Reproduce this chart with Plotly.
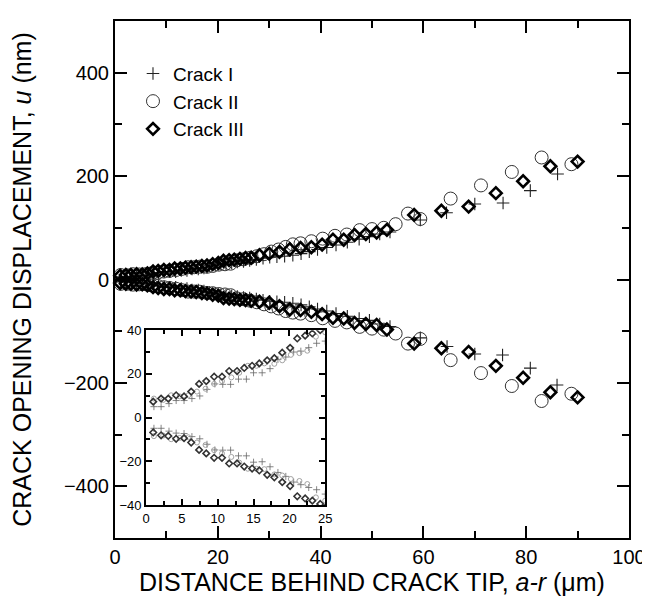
import plotly.graph_objects as go

# ---------------- data ----------------
# Crack I (crosses)
crack1_x_up = [1.1, 2.1, 3.2, 4.2, 5.3, 6.4, 7.5, 8.5, 9.6, 10.7, 11.8, 12.9, 14.0, 15.0, 16.2,
               17.3, 18.4, 19.5, 20.6, 21.6, 22.7, 23.8, 25.0, 26.2, 27.5, 28.8, 30.1, 31.5, 33.0, 34.6,
               36.2, 37.8, 39.4, 41.2, 43.0, 45.2, 47.5, 49.5, 51.5, 53.5, 59.4, 64.5, 70.0, 75.5, 80.8, 86.1]
crack1_u_up = [5.0, 5.0, 6.4, 7.8, 7.8, 8.7, 9.9, 12.9, 15.4, 15.2, 15.2, 17.6, 17.6, 20.5, 20.5,
               22.4, 26.6, 27.7, 30.0, 30.4, 32, 34, 35, 37, 39, 41, 43, 44, 45, 47,
               50, 54, 58, 62, 66.7, 72, 78, 83, 88, 92, 115, 129, 146, 148, 172, 204]
crack1_x_low = [1.1, 2.1, 3.2, 4.2, 5.3, 6.4, 7.5, 8.5, 9.6, 10.7, 11.8, 12.9, 14.0, 15.0, 16.2,
                17.3, 18.4, 19.5, 20.6, 21.6, 22.7, 23.8, 25.0, 26.2, 27.5, 28.8, 30.1, 31.5, 33.0, 34.6,
                36.2, 37.8, 39.4, 41.2, 43.0, 45.2, 47.5, 49.5, 51.5, 53.5, 59.4, 64.6, 70.0, 75.4, 80.8, 86.0]
crack1_u_low = [-4.9, -4.9, -6.2, -7.1, -7.3, -8.7, -9.7, -12.2, -14.8, -14.9, -14.9, -17.5, -17.5, -20.4, -20.2,
                -22.5, -25.1, -26.9, -29.5, -30.7, -32, -33, -35, -36, -38, -40, -42, -43, -44, -46,
                -49, -53, -57, -61, -66, -71, -75.5, -79, -86, -91, -113, -129.5, -144, -146, -171.5, -204]

# Crack II (open circles)
crack2_x_up = [1.1, 2.4, 3.5, 4.7, 5.9, 7.1, 8.3, 9.5, 10.6, 11.9, 13.0, 14.2, 15.4, 16.5,
               17.9, 19.0, 20.2, 21.4, 22.5, 23.7, 25.0, 26.3, 27.6, 29.0, 30.4, 31.8, 33.2, 34.6, 36.1,
               38.2, 40.4, 42.8, 45.1, 47.6, 50.0, 52.3, 54.6, 57.0, 59.4, 65.3, 71.2, 77.2, 83.0, 88.8]
crack2_u_up = [8.7, 8.1, 10.2, 9.7, 10.2, 11.9, 13.2, 15.4, 16.7, 18.4, 20.5, 23.7, 23.7, 24.8,
               24.6, 26.2, 28.7, 29.5, 30.6, 37.0, 39, 42, 45, 49, 54, 58, 63, 68, 70,
               74, 79, 84.5, 87, 95.5, 97.5, 100, 107, 127.5, 117, 156.5, 182, 208, 236, 223]
crack2_x_low = [1.1, 2.4, 3.5, 4.7, 5.9, 7.1, 8.3, 9.5, 10.6, 11.9, 13.0, 14.2, 15.4, 16.5,
                17.9, 19.0, 20.2, 21.4, 22.5, 23.7, 25.0, 26.3, 27.6, 29.0, 30.4, 31.8, 33.2, 34.6, 36.1,
                38.2, 40.4, 42.8, 45.1, 47.6, 50.0, 52.3, 54.6, 57.0, 59.4, 65.3, 71.2, 77.2, 83.0, 88.8]
crack2_u_low = [-8.5, -8.2, -9.9, -9.3, -9.0, -11.4, -12.5, -14.9, -16.4, -18.0, -20.6, -23.4, -23.4, -23.6,
                -26.0, -26.5, -28.1, -29.0, -30.4, -36.5, -38, -41, -44, -48, -52, -56, -61, -64, -66,
                -69, -75, -80, -83, -91.6, -95, -97, -104.5, -124, -115, -156, -181, -206, -235, -221]

# Crack III (open diamonds)
crack3_x_up = [1.0, 2.1, 3.1, 4.2, 5.3, 6.3, 7.4, 8.4, 9.5, 10.6, 11.6, 12.7, 13.7, 14.8, 15.8,
               16.9, 17.9, 19.0, 20.1, 21.1, 22.2, 23.2, 24.3, 25.4, 26.5, 28.1, 30.0, 32.0, 34.0, 36.1,
               38.2, 40.3, 42.4, 44.5, 46.6, 48.8, 50.9, 52.9, 58.2, 63.5, 68.8, 74.1, 79.4, 84.7, 90.0]
crack3_u_up = [7.3, 8.7, 8.7, 10.2, 9.7, 11.9, 15.4, 16.7, 18.7, 18.7, 21.3, 21.3, 22.7, 23.7, 24.8,
               26.2, 27.2, 29.7, 31.9, 36.2, 37.5, 38.5, 40, 41.5, 42, 47, 50, 53.5, 58.5, 61,
               62.5, 67.5, 77, 77, 86, 88, 91, 96, 125, 133, 141, 167, 190, 219, 228]
crack3_x_low = [1.0, 2.1, 3.1, 4.2, 5.3, 6.3, 7.4, 8.4, 9.5, 10.6, 11.6, 12.7, 13.7, 14.8, 15.8,
                16.9, 17.9, 19.0, 20.1, 21.1, 22.2, 23.2, 24.3, 25.4, 26.5, 28.1, 30.0, 32.0, 34.0, 36.1,
                38.2, 40.3, 42.4, 44.5, 46.6, 48.8, 50.9, 52.9, 58.2, 63.5, 68.8, 74.1, 79.4, 84.7, 90.0]
crack3_u_low = [-6.8, -8.1, -8.4, -9.7, -9.4, -11.4, -14.8, -16.4, -18.4, -18.4, -21.0, -21.0, -22.4, -23.3, -24.2,
                -26.2, -27.3, -29.5, -31.3, -36.0, -37, -38, -39.5, -40, -41, -43, -45, -51.6, -58, -59,
                -62.6, -67, -74, -75.5, -84, -86, -88, -96.8, -124, -133, -140, -167, -190, -218, -228]

series_names = ["Crack I", "Crack II", "Crack III"]
main_x_ticks = [0, 20, 40, 60, 80, 100]
main_y_ticks = [-400, -200, 0, 200, 400]
inset_x_ticks = [0, 5, 10, 15, 20, 25]
inset_y_ticks = [-40, -20, 0, 20, 40]

# ---------------- figure ----------------
FONT = "Liberation Sans, Arial, sans-serif"
fig = go.Figure()

series = [
    (crack1_x_up + crack1_x_low, crack1_u_up + crack1_u_low),
    (crack2_x_up + crack2_x_low, crack2_u_up + crack2_u_low),
    (crack3_x_up + crack3_x_low, crack3_u_up + crack3_u_low),
]
main_styles = [
    dict(symbol="cross-thin-open", size=9, color="#222", line=dict(color="#222", width=1.1)),
    dict(symbol="circle-open", size=13, color="#333", line=dict(color="#333", width=1)),
    dict(symbol="diamond-open", size=9, color="#000", line=dict(color="#000", width=2.6)),
]
inset_styles = [
    dict(symbol="cross-thin-open", size=5, color="#666", line=dict(color="#666", width=0.8)),
    dict(symbol="circle-open", size=5, color="#999", line=dict(color="#999", width=0.9)),
    dict(symbol="diamond-open", size=5, color="#333", line=dict(color="#333", width=1.6)),
]

for (xs, us), name, st in zip(series, series_names, main_styles):
    fig.add_trace(go.Scatter(x=xs, y=us, mode="markers", name=name, marker=st,
                             cliponaxis=False, xaxis="x", yaxis="y"))

for (xs, us), name, st in zip(series, series_names, inset_styles):
    fig.add_trace(go.Scatter(x=xs, y=us, mode="markers", name=name, marker=st,
                             showlegend=False, xaxis="x2", yaxis="y2"))

axis_common = dict(showline=True, linecolor="black", linewidth=2, mirror="allticks",
                   ticks="inside", tickcolor="black", showgrid=False, zeroline=False,
                   automargin=False)

# the page body adds an 8 px offset, so the figure is 8 px smaller than the window
fig.update_layout(
    width=642, height=592,
    margin=dict(l=107, r=21, t=13, b=62),
    paper_bgcolor="white", plot_bgcolor="white",
    font=dict(family=FONT, color="black"),
    xaxis=dict(range=[0, 100], tickvals=main_x_ticks, ticklen=12, tickwidth=2,
               minor=dict(dtick=10, ticklen=7, tickwidth=2, ticks="inside", tickcolor="black"),
               tickfont=dict(size=20, color="black"),
               title=dict(text="DISTANCE BEHIND CRACK TIP, <i>a-r</i> (μm)",
                          font=dict(size=25, color="black"), standoff=0),
               domain=[0, 1], **axis_common),
    yaxis=dict(range=[-500, 500], tickvals=main_y_ticks, ticklen=12, tickwidth=2,
               minor=dict(dtick=100, ticklen=7, tickwidth=2, ticks="inside", tickcolor="black"),
               tickfont=dict(size=20, color="black"),
               title=dict(text="CRACK OPENING DISPLACEMENT, <i>u</i> (nm)",
                          font=dict(size=25, color="black"), standoff=26),
               domain=[0, 1], **axis_common),
    xaxis2=dict(range=[0, 25], tickvals=inset_x_ticks, ticklen=6, tickwidth=1.5,
                minor=dict(dtick=2.5, ticklen=4, tickwidth=1.5, ticks="inside", tickcolor="black"),
                tickfont=dict(size=13, color="black"), domain=[0.0604, 0.409], anchor="y2",
                **axis_common),
    yaxis2=dict(range=[-40, 40], tickvals=inset_y_ticks, ticklen=6, tickwidth=1.5,
                minor=dict(dtick=10, ticklen=4, tickwidth=1.5, ticks="inside", tickcolor="black"),
                tickfont=dict(size=13, color="black"), domain=[0.0638, 0.402], anchor="x2",
                **axis_common),
    legend=dict(x=0.035, y=0.935, xanchor="left", yanchor="top", bgcolor="rgba(0,0,0,0)",
                font=dict(size=19, color="black"), tracegroupgap=0, itemwidth=30),
    showlegend=True,
)

fig.write_html("out.html")
